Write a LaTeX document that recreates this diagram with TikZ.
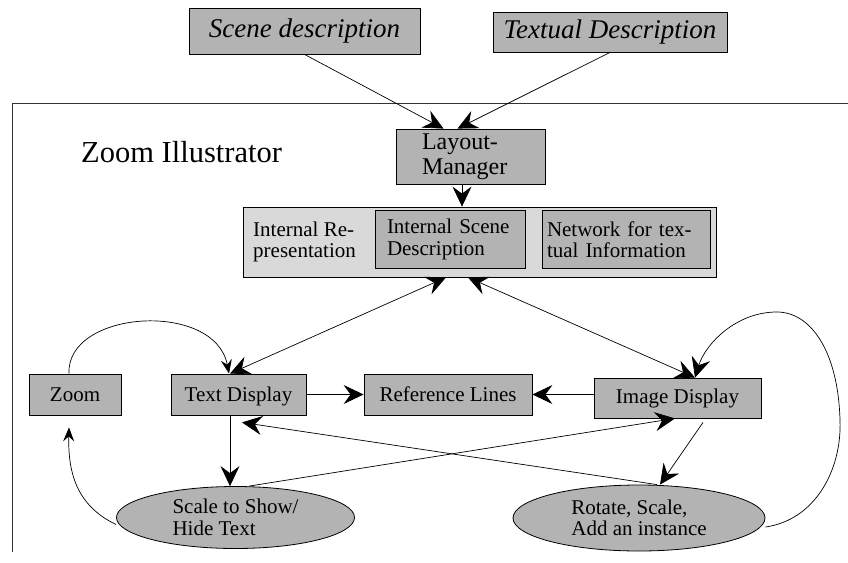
\documentclass[tikz,border=0pt]{standalone}
\usepackage{fontspec}
\setmainfont{Liberation Serif}
\usetikzlibrary{shapes.geometric,arrows.meta}
\definecolor{boxgray}{HTML}{B3B3B3}
\definecolor{lightbox}{HTML}{D9D9D9}
\tikzset{
  box/.style={draw=black, line width=0.8pt, fill=boxgray, inner sep=0pt, align=center},
  lowtext/.style={text height=16pt, text depth=2pt},
  oval/.style={ellipse, draw=black, line width=0.8pt, fill=boxgray, inner sep=0pt, align=left},
  bigtip/.tip={Stealth[length=20pt,width=19pt,inset=7pt]},
  smalltip/.tip={Stealth[length=14pt,width=11pt,inset=5pt]},
  arr/.style={line width=0.7pt, -bigtip},
  biarr/.style={line width=0.7pt, bigtip-bigtip},
  sarr/.style={line width=0.7pt, -smalltip},
}
\begin{document}
\begin{tikzpicture}[x=1pt,y=-1pt, font=\fontsize{21}{21.5}\selectfont]
\useasboundingbox (0,0) rectangle (848,562);
% frame
\draw[line width=0.8pt, black!80] (848,103) -- (12,103) -- (12,552);
% top boxes
\node[box, minimum width=231pt, minimum height=46pt, font=\fontsize{27}{30}\selectfont\itshape] (scene) at (304.5,31) {Scene description};
\node[box, minimum width=234pt, minimum height=40pt, font=\fontsize{27}{30}\selectfont\itshape] (textual) at (610,32) {Textual Description};
% title
\node[anchor=base west, inner sep=0pt, font=\fontsize{30.5}{32}\selectfont] (title) at (81,162) {Zoom Illustrator};
% layout manager
\node[box, minimum width=149pt, minimum height=55pt, text width=97pt, inner xsep=26pt, align=left, font=\fontsize{24}{25}\selectfont] (layout) at (470.5,156.5) {Layout-\\Manager};
% internal representation
\node[box, fill=lightbox, minimum width=473pt, minimum height=70pt] (intrep) at (479.5,242) {};
\node[anchor=west, inner sep=0pt, align=left] (irlabel) at (253,242) {Internal Re-\\presentation};
\node[box, minimum width=150pt, minimum height=58pt, text width=126pt, inner xsep=12pt, align=left] (isd) at (450,239.5) {Internal Scene\\Description};
\node[box, minimum width=168pt, minimum height=58pt, text width=158pt, inner xsep=5pt, align=left] (net) at (626,239.5) {Network for tex-\\tual Information};
% middle row
\node[box, lowtext, minimum width=92pt, minimum height=41pt] (zoom) at (75,394.5) {Zoom};
\node[box, lowtext, minimum width=135pt, minimum height=41pt] (txt) at (238.5,394.5) {Text Display};
\node[box, lowtext, minimum width=168pt, minimum height=41pt] (ref) at (448,394.5) {Reference Lines};
\node[box, minimum width=167pt, minimum height=40pt] (img) at (677.5,398) {Image Display};
% ellipses
\node[oval, minimum width=238pt, minimum height=62pt] (scale) at (235.5,517.5) {Scale to Show/\\Hide Text};
\node[oval, minimum width=252pt, minimum height=66pt] (rot) at (639,518) {Rotate, Scale,\\Add an instance};
% connectors
\draw[arr] (scene.south) -- ([xshift=-27pt]layout.north);
\draw[arr] (textual.south) -- ([xshift=-13pt]layout.north);
\draw[arr] ([xshift=-8.5pt]layout.south) -- ([xshift=-8.5pt]layout.south |- intrep.north);
\draw[biarr] ([xshift=-8.5pt]txt.north) -- ([xshift=-33.5pt]intrep.south);
\draw[biarr] ([xshift=-11.5pt]intrep.south) -- ([xshift=17.5pt]img.north);
\draw[arr] (txt.east) -- (ref.west);
\draw[arr] (img.west |- ref.east) -- (ref.east);
\draw[arr] ([xshift=-8.5pt]txt.south) -- ([xshift=-8.5pt]txt.south |- scale.north);
\draw[arr] ([xshift=13.5pt]scale.north) -- ([xshift=-2.5pt]img.south);
\draw[arr] ([xshift=18pt]rot.north) -- ([xshift=3.5pt,yshift=-7pt]txt.south);
\draw[arr] ([xshift=25.5pt,yshift=-4pt]img.south) -- ([xshift=21pt]rot.north);
\draw[sarr] ([xshift=-6pt]zoom.north) .. controls (66,310) and (215,300) .. ([xshift=-9.5pt]txt.north);
\draw[sarr] ([yshift=-7pt]scale.west) .. controls (75,505) and (68,470) .. ([xshift=-6pt,yshift=-12pt]zoom.south);
\draw[arr] ([yshift=-9pt]rot.east) .. controls (815,520) and (842,470) .. (840,420)
  .. controls (838,350) and (810,312) .. (777,312)
  .. controls (735,312) and (705,345) .. ([xshift=17.5pt]img.north);
\end{tikzpicture}
\end{document}
